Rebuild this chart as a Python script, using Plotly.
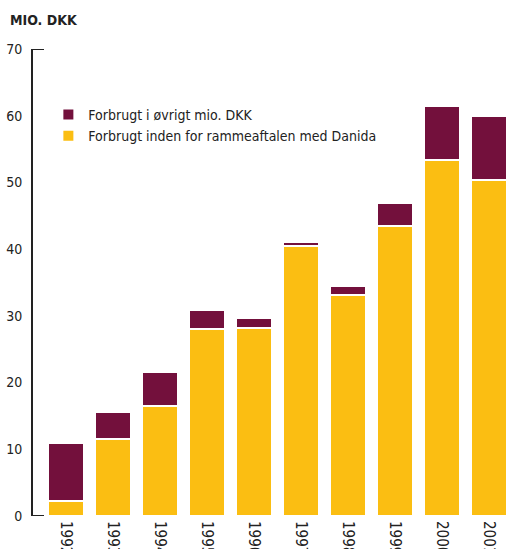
import plotly.graph_objects as go

years = ["1992", "1993", "1994", "1995", "1996", "1997", "1998", "1999", "2000", "2001"]
inden = [2.3, 11.6, 16.5, 28.0, 28.2, 40.5, 33.1, 43.5, 53.4, 50.4]
ovrigt = [8.6, 4.0, 5.1, 2.9, 1.5, 0.6, 1.4, 3.4, 8.1, 9.6]
ytick_vals = [0, 10, 20, 30, 40, 50, 60, 70]

PURPLE = "#73103C"
YELLOW = "#FBBE12"
TXT = "#222222"
FONT = "DejaVu Sans Condensed, DejaVu Sans, sans-serif"

fig = go.Figure()
fig.add_trace(go.Bar(x=years, y=inden, name="Forbrugt inden for rammeaftalen med Danida",
                     marker=dict(color=YELLOW, line=dict(color="white", width=2)), legendrank=2))
fig.add_trace(go.Bar(x=years, y=ovrigt, name="Forbrugt i øvrigt mio. DKK",
                     marker=dict(color=PURPLE, line=dict(color="white", width=2)), legendrank=1))

fig.update_layout(
    width=506, height=549,
    barmode="stack", bargap=0.234,
    plot_bgcolor="white", paper_bgcolor="white",
    margin=dict(l=33, r=0, t=49, b=33, autoexpand=False),
    font=dict(family=FONT, size=14, color=TXT),
    showlegend=True,
    legend=dict(x=0.0325, y=0.893, xanchor="left", yanchor="top", traceorder="normal",
                bgcolor="rgba(0,0,0,0)", font=dict(size=14, color=TXT),
                itemsizing="constant", tracegroupgap=0),
    xaxis=dict(range=[-0.70, 9.36], tickangle=90, showline=False, ticks="",
               showgrid=False, automargin=False, tickfont=dict(size=15, color=TXT),
               ticklabelstandoff=4, fixedrange=True),
    yaxis=dict(range=[ytick_vals[0], ytick_vals[-1]], tickvals=ytick_vals, ticks="",
               showticklabels=True, showline=True, linecolor=TXT, ticklabelstandoff=6,
               linewidth=2, showgrid=False, zeroline=False, automargin=False,
               tickfont=dict(size=14, color=TXT)),
)
for v in (ytick_vals[0], ytick_vals[-1]):
    fig.add_shape(type="line", xref="paper", yref="y", x0=0, x1=11 / 473, y0=v, y1=v,
                  line=dict(color=TXT, width=2))
fig.add_annotation(text="<b>MIO. DKK</b>", xref="paper", yref="paper", x=-0.052, y=1.062,
                   xanchor="left", yanchor="middle", showarrow=False,
                   font=dict(size=14, color=TXT, family=FONT))
fig.write_html("out.html", config={"displayModeBar": False},
               post_script="document.body.style.margin='0';")
